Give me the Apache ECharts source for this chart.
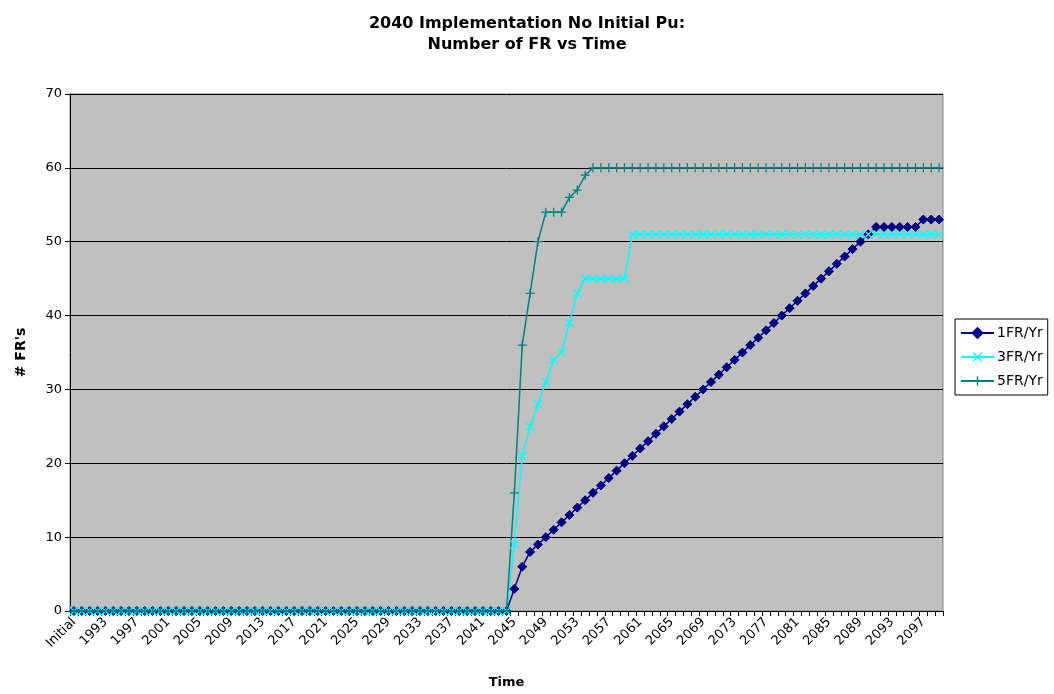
<!DOCTYPE html>
<html>
<head>
<meta charset="utf-8">
<script src="https://cdn.jsdelivr.net/npm/echarts@6/dist/echarts.min.js"></script>
<style>
html,body{margin:0;padding:0;background:#fff;}
#chart{width:1054px;height:694px;}
</style>
</head>
<body>
<div id="chart"></div>
<script>
// Categories: "Initial" followed by the years 1990..2099
var categories = ["Initial"];
for (var y = 1990; y <= 2099; y++) categories.push(String(y));

var fr1 = [
  0,0,0,0,0,0,0,0, 0,0,0,0,0,0,0,0, 0,0,0,0,0,0,0,0, 0,0,0,0,0,0,0,0,
  0,0,0,0,0,0,0,0, 0,0,0,0,0,0,0,0, 0,0,0,0,0,0,0,0,
  3,6,8,9,
  10,11,12,13,14,15,16,17,18,19,20,21,22,23,24,25,26,27,28,29,30,
  31,32,33,34,35,36,37,38,39,40,41,42,43,44,45,46,47,48,49,50,
  51,52,52,52,52,52,52,53,53,53
];
var fr3 = [
  0,0,0,0,0,0,0,0, 0,0,0,0,0,0,0,0, 0,0,0,0,0,0,0,0, 0,0,0,0,0,0,0,0,
  0,0,0,0,0,0,0,0, 0,0,0,0,0,0,0,0, 0,0,0,0,0,0,0,0,
  9,21,25,28,31,34,35,39,43,
  45,45,45,45,45,45,
  51,51,51,51,51,51,51,51,51,51,51,51,51,51,51,51,51,51,51,51,
  51,51,51,51,51,51,51,51,51,51,51,51,51,51,51,51,51,51,51,51
];
var fr5 = [
  0,0,0,0,0,0,0,0, 0,0,0,0,0,0,0,0, 0,0,0,0,0,0,0,0, 0,0,0,0,0,0,0,0,
  0,0,0,0,0,0,0,0, 0,0,0,0,0,0,0,0, 0,0,0,0,0,0,0,0,
  16,36,43,50,54,54,54,56,57,59,
  60,60,60,60,60,60,60,60,60,60,60,60,60,60,60,60,60,60,60,60,
  60,60,60,60,60,60,60,60,60,60,60,60,60,60,60,60,60,60,60,60,
  60,60,60,60,60
];
var seriesNames = ["1FR/Yr", "3FR/Yr", "5FR/Yr"];
var yTicks = [0, 10, 20, 30, 40, 50, 60, 70];

var FONT = "DejaVu Sans, Verdana, sans-serif";
var plusPath = 'path://M4.3,0 H5.7 V4.3 H10 V5.7 H5.7 V10 H4.3 V5.7 H0 V4.3 H4.3 Z';
var xPath = 'path://M1,0 L5,4 L9,0 L10,1 L6,5 L10,9 L9,10 L5,6 L1,10 L0,9 L4,5 L0,1 Z';

var chart = echarts.init(document.getElementById('chart'), null, {renderer: 'canvas'});
chart.setOption({
  animation: false,
  backgroundColor: '#ffffff',
  title: {
    text: '2040 Implementation No Initial Pu:\nNumber of FR vs Time',
    left: 'center',
    top: 8,
    textStyle: {fontFamily: FONT, fontSize: 16, fontWeight: 'bold', color: '#000', lineHeight: 21}
  },
  legend: {
    orient: 'vertical',
    left: 955,
    top: 319,
    padding: [7, 5, 7, 5],
    itemWidth: 33,
    itemHeight: 12,
    itemGap: 10,
    borderColor: '#000',
    borderWidth: 1,
    backgroundColor: '#fff',
    textStyle: {fontFamily: FONT, fontSize: 14, color: '#000', padding: [0, 0, 0, -2]},
    data: seriesNames
  },
  grid: {
    left: 70, right: 111, top: 94, bottom: 82,
    show: true,
    backgroundColor: '#C0C0C0',
    borderColor: '#808080',
    borderWidth: 1
  },
  xAxis: {
    type: 'category',
    data: categories,
    boundaryGap: true,
    name: 'Time',
    nameLocation: 'middle',
    nameGap: 65,
    nameTextStyle: {fontFamily: FONT, fontSize: 13, fontWeight: 'bold', color: '#000'},
    axisLine: {lineStyle: {color: '#000', width: 1}},
    axisTick: {show: true, interval: 0, length: 5, lineStyle: {color: '#000'}},
    axisLabel: {interval: 3, rotate: 45, fontFamily: FONT, fontSize: 13, color: '#000', margin: 9},
    splitLine: {show: false}
  },
  yAxis: {
    type: 'value',
    min: yTicks[0],
    max: yTicks[yTicks.length - 1],
    interval: 10,
    name: "# FR's",
    nameLocation: 'middle',
    nameGap: 42,
    nameRotate: 90,
    nameTextStyle: {fontFamily: FONT, fontSize: 14, fontWeight: 'bold', color: '#000'},
    axisLine: {show: true, lineStyle: {color: '#000', width: 1}},
    axisTick: {show: true, length: 5, lineStyle: {color: '#000'}},
    axisLabel: {fontFamily: FONT, fontSize: 13, color: '#000', margin: 8},
    splitLine: {show: true, lineStyle: {color: '#000', width: 1}}
  },
  series: [
    {
      name: seriesNames[0], type: 'line', data: fr1,
      symbol: 'diamond', symbolSize: 9, showAllSymbol: true,
      lineStyle: {color: '#000080', width: 1.5},
      itemStyle: {color: '#000080', borderColor: '#000080', borderWidth: 1}
    },
    {
      name: seriesNames[1], type: 'line', data: fr3,
      symbol: xPath, symbolSize: 9, showAllSymbol: true,
      lineStyle: {color: '#00FFFF', width: 1.5},
      itemStyle: {color: '#00FFFF', borderWidth: 0}
    },
    {
      name: seriesNames[2], type: 'line', data: fr5,
      symbol: plusPath, symbolSize: 9, showAllSymbol: true,
      lineStyle: {color: '#008080', width: 1.5},
      itemStyle: {color: '#008080', borderWidth: 0}
    }
  ]
});
</script>
</body>
</html>
